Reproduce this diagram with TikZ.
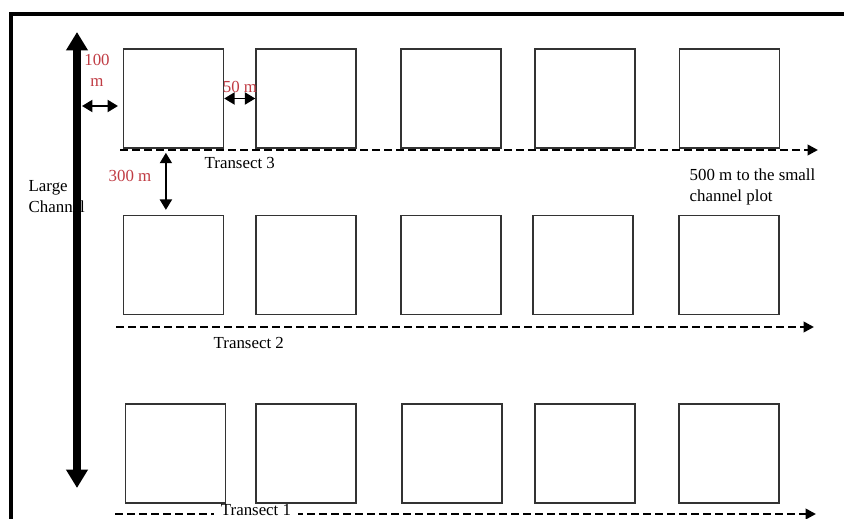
\documentclass[tikz,border=0pt]{standalone}
\usepackage{fontspec}
\setmainfont{Liberation Serif}
\usetikzlibrary{arrows.meta}
\definecolor{dimred}{RGB}{192,60,68}
\tikzset{
  plotbox/.style={draw=black!80, line width=1pt, minimum width=2.5cm, minimum height=2.48cm, inner sep=0pt},
  transect/.style={line width=1.8pt, dash pattern=on 0.2cm off 0.1cm, -{Triangle[length=0.26cm, width=0.26cm]}},
  dimarrow/.style={line width=1.4pt, {Triangle[length=0.26cm, width=0.3cm]}-{Triangle[length=0.26cm, width=0.3cm]}},
  dimlabel/.style={text=dimred, font=\fontsize{12}{15}\selectfont, align=center, inner sep=1pt},
  txt/.style={font=\fontsize{12}{15}\selectfont, align=left, inner sep=1pt}
}
\begin{document}
\begin{tikzpicture}[x=0.025cm, y=-0.025cm]
\useasboundingbox (0,0) rectangle (844,519);
\draw[line width=3pt] (11,519) -- (11,14) -- (844,14);
\coordinate (t3s) at (120,150);
\coordinate (t3e) at (818,150);
\coordinate (t2s) at (116,327);
\coordinate (t2e) at (814,327);
\coordinate (t1s) at (115,514);
\coordinate (t1e) at (816,514);
\draw[transect] (t3s) -- (t3e);
\draw[transect] (t2s) -- (t2e);
\draw[transect] (t1s) -- (t1e);
\node[txt, fill=white, inner xsep=5pt] (lt1) at (256,510) {Transect 1};
\coordinate (ctop) at (77,32);
\coordinate (cbot) at (77,488);
\draw[line width=5pt, {Triangle[length=0.46cm, width=0.52cm]}-{Triangle[length=0.46cm, width=0.52cm]}] (ctop) -- (cbot);
\node[plotbox] (b11) at (173.5,98.5) {};
\node[plotbox] (b12) at (306,98.5) {};
\node[plotbox] (b13) at (451,98.5) {};
\node[plotbox] (b14) at (585,98.5) {};
\node[plotbox] (b15) at (729.5,98.5) {};
\node[plotbox] (b21) at (173.5,265) {};
\node[plotbox] (b22) at (306,265) {};
\node[plotbox] (b23) at (451,265) {};
\node[plotbox] (b24) at (583,265) {};
\node[plotbox] (b25) at (729,265) {};
\node[plotbox] (b31) at (175.5,453.5) {};
\node[plotbox] (b32) at (306,453.5) {};
\node[plotbox] (b33) at (452,453.5) {};
\node[plotbox] (b34) at (585,453.5) {};
\node[plotbox] (b35) at (729,453.5) {};
\coordinate (c100) at (82,106);
\draw[dimarrow, shorten >=0.12cm] (c100) -- (c100 -| b11.west);
\draw[dimarrow] (b11.east) -- (b12.west);
\draw[dimarrow, shorten <=0.1cm, shorten >=0.12cm] ([xshift=-0.19cm]b11.south) -- ([xshift=-0.19cm]b21.north);
\node[dimlabel] (l100) at (97,70) {100\\m};
\node[dimlabel] (l50) at (240,87) {50 m};
\node[dimlabel] (l300) at (130,176) {300 m};
\node[txt, anchor=west] (lt3) at (203,163) {Transect 3};
\node[txt, anchor=west] (lt2) at (212,343) {Transect 2};
\node[txt, anchor=west] (lnote) at (688,186.5) {500 m to the small\\channel plot};
\node[txt, anchor=west] (lchan) at (27,196.5) {Large\\Channel};
\end{tikzpicture}
\end{document}
